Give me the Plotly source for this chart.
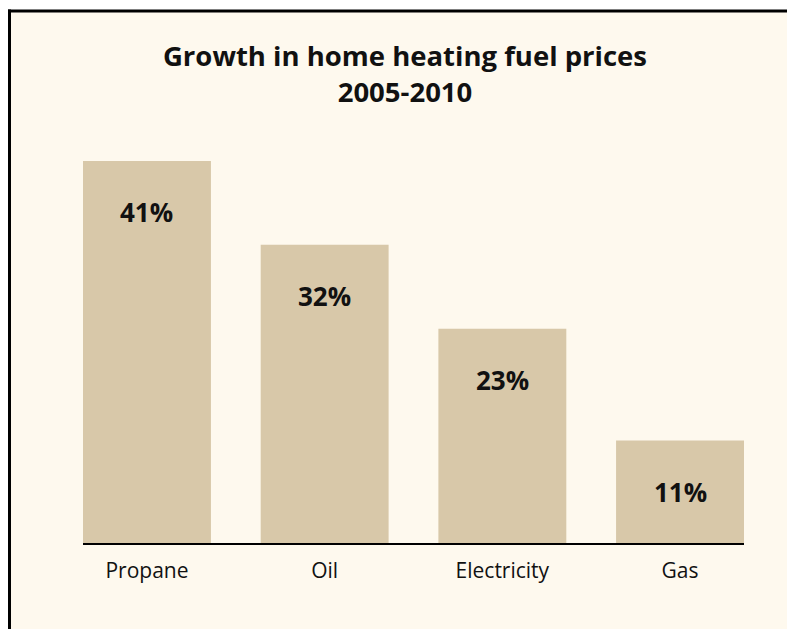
import plotly.graph_objects as go

categories = ["Propane", "Oil", "Electricity", "Gas"]
values = [41, 32, 23, 11]
value_labels = ["41%", "32%", "23%", "11%"]

title_line1 = "Growth in home heating fuel prices"
title_line2 = "2005-2010"

BAR = "#D8C8A9"
CREAM = "#FEF9EE"
FONT = "Open Sans"

W, H = 787, 629
ml, mr, mt, mb = 75, 51, 133, 94
plot_w = W - ml - mr
plot_h = H - mt - mb
px_per_unit = 382 / 41.0
ymax = plot_h / px_per_unit

def px_to_paper_x(px):
    return (px - ml) / plot_w

def px_to_paper_y(py):
    return (H - mb - py) / plot_h

fig = go.Figure()
fig.add_trace(go.Bar(x=categories, y=values, marker=dict(color=BAR, line=dict(width=0)),
                     hoverinfo="skip"))

for c, v, t in zip(categories, values, value_labels):
    fig.add_annotation(x=c, y=v, text="<b>" + t + "</b>", showarrow=False, yanchor="middle",
                       yshift=-51, font=dict(family=FONT, size=26, color="#111111"))

# cream panel
fig.add_shape(type="rect", xref="paper", yref="paper", layer="below",
              x0=px_to_paper_x(1.5), x1=px_to_paper_x(W),
              y0=px_to_paper_y(H), y1=px_to_paper_y(3),
              fillcolor=CREAM, line=dict(width=0))
# top and left border lines
fig.add_shape(type="line", xref="paper", yref="paper", layer="below",
              x0=px_to_paper_x(0), x1=px_to_paper_x(W),
              y0=px_to_paper_y(3), y1=px_to_paper_y(3),
              line=dict(color="black", width=3))
fig.add_shape(type="line", xref="paper", yref="paper", layer="below",
              x0=px_to_paper_x(1.5), x1=px_to_paper_x(1.5),
              y0=px_to_paper_y(1.5), y1=px_to_paper_y(H),
              line=dict(color="black", width=3))

fig.update_layout(
    width=W, height=H,
    margin=dict(l=ml, r=mr, t=mt, b=mb),
    paper_bgcolor="white",
    plot_bgcolor="rgba(0,0,0,0)",
    bargap=0.28,
    showlegend=False,
    title=dict(text="<b>" + title_line1 + "<br>" + title_line2 + "</b>",
               x=397 / W, xanchor="center", xref="container",
               y=(H - 58) / H, yanchor="top", yref="container",
               font=dict(family=FONT, size=27.5, color="#111111")),
    xaxis=dict(range=[-0.36, 3.36], showline=True, linecolor="black", linewidth=1.5,
               ticks="", showgrid=False, zeroline=False, ticklabelstandoff=8,
               tickfont=dict(family=FONT, size=21, color="#111111")),
    yaxis=dict(range=[0, ymax], visible=False, showgrid=False, zeroline=False),
)

fig.write_html("out.html", config={"displayModeBar": False},
               post_script="document.documentElement.style.overflow='hidden';document.body.style.overflow='hidden';")
